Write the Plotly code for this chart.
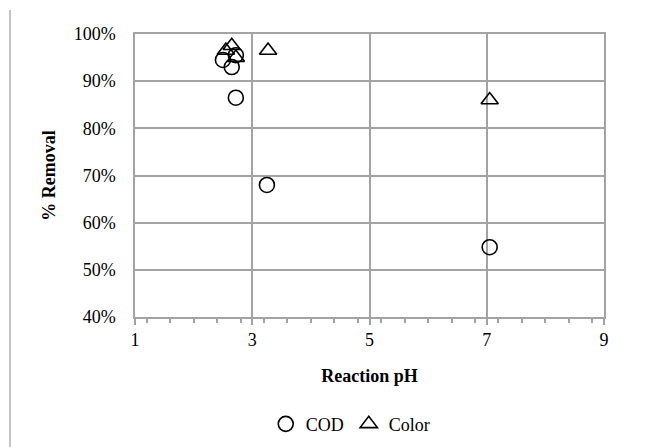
import plotly.graph_objects as go

cod_ph = [2.5, 2.65, 2.72, 2.72, 3.25, 7.05]
cod_removal = [0.945, 0.93, 0.955, 0.865, 0.68, 0.548]
color_ph = [2.55, 2.65, 2.72, 3.27, 7.05]
color_removal = [0.965, 0.975, 0.95, 0.965, 0.86]

x_ticks = [1, 3, 5, 7, 9]
y_ticks = [0.4, 0.5, 0.6, 0.7, 0.8, 0.9, 1.0]

font = "Liberation Serif, Times New Roman, serif"
grid = "#a3a3a3"
fs = 18

fig = go.Figure()
fig.add_trace(go.Scatter(x=cod_ph, y=cod_removal, mode="markers", name="COD",
                         marker=dict(symbol="circle-open", size=15, color="black", line=dict(width=1.6))))
fig.add_trace(go.Scatter(x=color_ph, y=color_removal, mode="markers", name="Color",
                         marker=dict(symbol="triangle-up-open", size=15, color="black", line=dict(width=1.6))))

fig.update_layout(
    width=658, height=439,
    margin=dict(l=127, r=62, t=26, b=130, autoexpand=False),
    paper_bgcolor="white", plot_bgcolor="white",
    font=dict(family=font, size=fs, color="black"),
    showlegend=True,
    legend=dict(orientation="h", x=0.46, xanchor="center", yref="container", y=0.052, yanchor="middle",
                font=dict(family=font, size=fs, color="black"), itemwidth=30,
                tracegroupgap=0),
    xaxis=dict(range=[1, 9], tickvals=x_ticks, ticktext=[str(v) for v in x_ticks],
               automargin=False,
               showgrid=True, gridcolor=grid, gridwidth=1.5,
               showline=True, linecolor=grid, linewidth=1.5, mirror=True,
               ticks="outside", ticklen=6, tickcolor=grid, tickwidth=1.5,
               minor=dict(dtick=0.4, ticks="outside", ticklen=4, tickcolor=grid, tickwidth=1.5, showgrid=False),
               zeroline=False,
               tickfont=dict(family=font, size=fs, color="black"),
               title=dict(text="<b>Reaction pH</b>", font=dict(family=font, size=fs, color="black"), standoff=20)),
    yaxis=dict(range=[0.4, 1.0], tickvals=y_ticks, tickformat=".0%",
               automargin=False,
               showgrid=True, gridcolor=grid, gridwidth=1.5,
               showline=True, linecolor=grid, linewidth=1.5, mirror=True,
               ticks="", zeroline=False, ticklabelstandoff=14,
               tickfont=dict(family=font, size=fs, color="black"),
               title=dict(text="<b>% Removal</b>", font=dict(family=font, size=fs, color="black"), standoff=13)),
    shapes=[dict(type="line", xref="paper", yref="paper", x0=-0.2665, x1=-0.2665, y0=-0.459, y1=1.085,
                 line=dict(color="#b0b0b0", width=1.5))],
)

fig.write_html("out.html")
